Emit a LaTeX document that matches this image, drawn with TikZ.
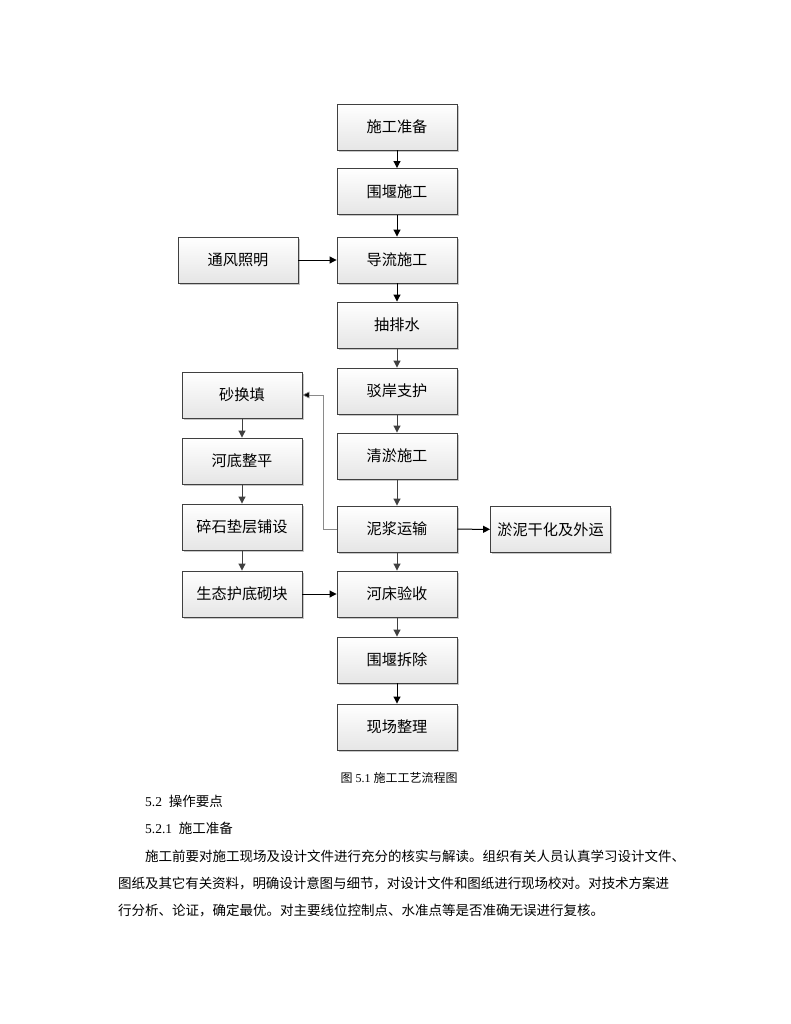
\documentclass[tikz,border=0pt]{standalone}
\usepackage{fontspec}
\setmainfont{Liberation Serif}
\newfontfamily\cjk{Noto Sans CJK SC}
\newfontfamily\cjkwide[LetterSpace=-0.5]{Noto Sans CJK SC}
\usetikzlibrary{arrows.meta,shadows}
\definecolor{lineg}{HTML}{404040}
\definecolor{fbg}{HTML}{8A8A8A}
\begin{document}
\begin{tikzpicture}[x=1pt,y=-1pt,
  box/.style={draw=lineg, line width=0.9pt, top color=white, bottom color=black!10,
    minimum width=120pt, minimum height=46pt, inner sep=0pt,
    font=\cjk\fontsize{15.2}{17}\selectfont,
    drop shadow={shadow xshift=1.6pt, shadow yshift=-1.6pt, fill=black!22, opacity=1}},
  arrb/.style={draw=black, line width=1pt, -{Triangle[length=7pt,width=7pt]}},
  arrg/.style={draw=lineg, line width=1pt, -{Triangle[length=7pt,width=7pt]}},
  arrf/.style={draw=fbg, line width=0.7pt, -{Triangle[length=7pt,width=7pt,fill=black]}},
  body/.style={anchor=base west, inner sep=0pt, font=\cjk\fontsize{13.5}{15}\selectfont}
]
\useasboundingbox[fill=white] (0,0) rectangle (791,1024);
% main column
\node[box] (n1) at (397,127) {施工准备};
\node[box] (n2) at (397,191.5) {围堰施工};
\node[box] (n3) at (397,260) {导流施工};
\node[box] (n4) at (397,325) {抽排水};
\node[box] (n5) at (397,391) {驳岸支护};
\node[box] (n6) at (397,456) {清淤施工};
\node[box] (n7) at (397,529) {泥浆运输};
\node[box] (n8) at (397,594) {河床验收};
\node[box] (n9) at (397,660) {围堰拆除};
\node[box] (n10) at (397,727) {现场整理};
% side boxes
\node[box] (v) at (238,260) {通风照明};
\node[box] (l1) at (242,395) {砂换填};
\node[box] (l2) at (242,461) {河底整平};
\node[box] (l3) at (242,527) {碎石垫层铺设};
\node[box] (l4) at (242,594) {生态护底砌块};
\node[box] (r) at (550.5,529.5) {淤泥干化及外运};
% arrows
\draw[arrb] (n1) -- (n2);
\draw[arrb] (n2) -- (n3);
\draw[arrb] (v) -- (n3);
\draw[arrb] (n3) -- (n4);
\draw[arrg] (n4) -- (n5);
\draw[arrg] (n5) -- (n6);
\draw[arrg] (n6) -- (n7);
\draw[arrg] (n7) -- (n8);
\draw[arrg] (n8) -- (n9);
\draw[arrb] (n9) -- (n10);
\draw[arrb] (n7) -- (r);
\draw[arrg] (l1) -- (l2);
\draw[arrg] (l2) -- (l3);
\draw[arrg] (l3) -- (l4);
\draw[arrb] (l4) -- (n8);
\coordinate (fb) at (323,395);
\draw[arrf] (n7.west) -| (fb) -- (l1.east);
% caption and text
\node[anchor=base, inner sep=0pt, font=\fontsize{12}{13}\selectfont] (cap) at (399,782) {{\cjk 图} 5.1 {\cjk 施工工艺流程图}};
\node[body] (t1) at (145,806) {\rmfamily 5.2\ \ \cjk 操作要点};
\node[body] (t2) at (145,833) {\rmfamily 5.2.1\ \ \cjk 施工准备};
\node[body] (p1) at (145,861) {施工前要对施工现场及设计文件进行充分的核实与解读。组织有关人员认真学习设计文件、};
\node[body, font=\cjkwide\fontsize{13.5}{15}\selectfont] (p2) at (118,888) {图纸及其它有关资料，明确设计意图与细节，对设计文件和图纸进行现场校对。对技术方案进};
\node[body] (p3) at (118,915) {行分析、论证，确定最优。对主要线位控制点、水准点等是否准确无误进行复核。};
\end{tikzpicture}
\end{document}
